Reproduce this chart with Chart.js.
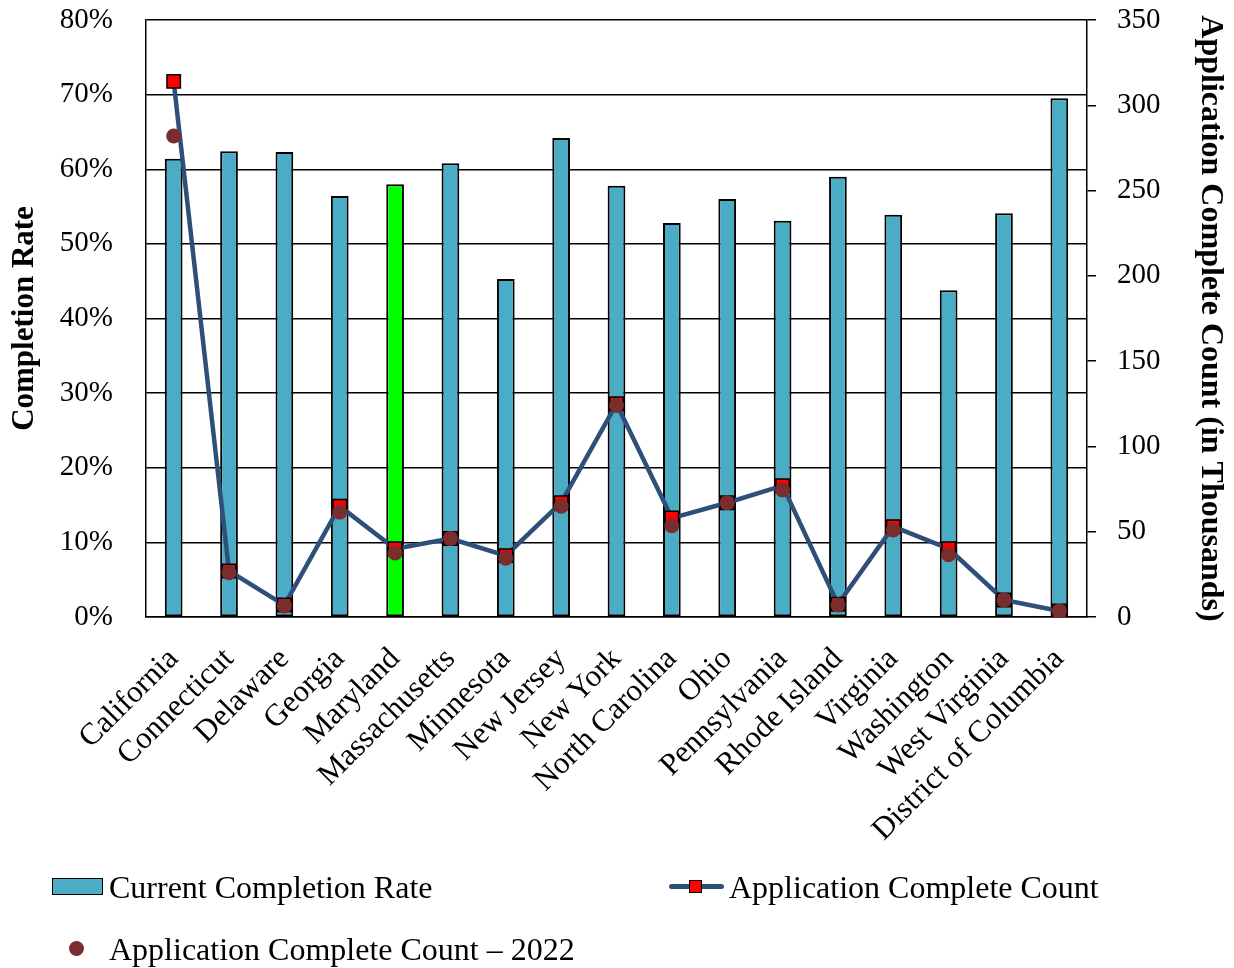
<!DOCTYPE html>
<html>
<head>
	<meta charset="UTF-8">
	<title>Completion Rate</title>
	<script src="https://cdn.jsdelivr.net/npm/chart.js@4.4.0/dist/chart.umd.min.js"></script>
	<style>
		body {
			margin:0;
			padding:0;
			overflow: hidden;
			background: #fff;
		}
		#wrap {
			position: relative;
			width: 1234px;
			height: 968px;
		}
		.leg {
			position: absolute;
			font-family: 'Liberation Serif', 'Times New Roman', serif;
			font-size: 32px;
			color: #000;
			line-height: 36px;
			white-space: nowrap;
		}
		.box {
			position: absolute;
			width: 49px;
			height: 15px;
			background: #4BACC6;
			border: 1.5px solid #000;
		}
		.ln {
			position: absolute;
			height: 5px;
			background: #2F4F7B;
			border-radius: 3px;
		}
		.sq {
			position: absolute;
			width: 11px;
			height: 11px;
			background: #f00;
			border: 1.5px solid #000;
		}
		.dot {
			position: absolute;
			width: 15px;
			height: 15px;
			border-radius: 50%;
			background: #7B2D2D;
		}
	</style>
</head>
<body>
	<div id="wrap">
		<canvas id="chart" width="1234" height="968"></canvas>
		<span class="box" style="left:52px; top:878px;"></span>
		<div class="leg" style="left:109px; top:869px;">Current Completion Rate</div>
		<span class="ln" style="left:669px; top:884px; width:55px;"></span>
		<span class="sq" style="left:689px; top:880px;"></span>
		<div class="leg" style="left:729px; top:869px;">Application Complete Count</div>
		<span class="dot" style="left:69px; top:941px;"></span>
		<div class="leg" style="left:109px; top:931px;">Application Complete Count – 2022</div>
	</div>
	<script>
		const states = ['California', 'Connecticut', 'Delaware', 'Georgia', 'Maryland', 'Massachusetts', 'Minnesota',
			'New Jersey', 'New York', 'North Carolina', 'Ohio', 'Pennsylvania', 'Rhode Island', 'Virginia',
			'Washington', 'West Virginia', 'District of Columbia'];
		const completionRate = [61.4, 62.4, 62.3, 56.4, 58.0, 60.8, 45.3, 64.2, 57.8, 52.8, 56.0, 53.1, 59.0, 53.9, 43.8, 54.1, 69.5];
		const completeCount = [314, 27, 7, 65, 40, 46, 36, 67, 125, 58, 67, 77, 7.5, 53, 40, 10, 3.5];
		const completeCount2022 = [282, 26, 6.5, 61.5, 37.5, 46, 34.5, 65, 124, 53.5, 67, 74.5, 7, 51, 36.5, 10, 3.5];
		const highlight = 'Maryland';

		const serif = "'Liberation Serif', 'Times New Roman', serif";
		const barColors = states.map(s => s === highlight ? '#00FF00' : '#4BACC6');

		// tick padding also pushes the plot down, so cap the top padding
		function fitSide(width) {
			return s => {
				s.width = width;
				s.paddingTop = 20;
			};
		}

		const ctx = document.getElementById('chart').getContext('2d');
		const myChart = new Chart(ctx, {
			data: {
				labels: states,
				datasets: [
					{
						type: 'line',
						label: 'Application Complete Count – 2022',
						data: completeCount2022,
						yAxisID: 'y1',
						showLine: false,
						pointStyle: 'circle',
						pointRadius: 7.5,
						pointBackgroundColor: '#7B2D2D',
						pointBorderColor: '#7B2D2D',
						pointBorderWidth: 0,
						order: 0
					},
					{
						type: 'line',
						label: 'Application Complete Count',
						data: completeCount,
						yAxisID: 'y1',
						borderColor: '#2F4F7B',
						borderWidth: 4.5,
						tension: 0,
						pointStyle: 'rect',
						pointRadius: 9.5,
						pointBackgroundColor: '#FF0000',
						pointBorderColor: '#000',
						pointBorderWidth: 1.5,
						order: 1
					},
					{
						type: 'bar',
						label: 'Current Completion Rate',
						data: completionRate,
						yAxisID: 'y',
						backgroundColor: barColors,
						borderColor: '#000',
						borderWidth: 2,
						borderSkipped: false,
						barPercentage: 0.32,
						categoryPercentage: 1,
						order: 2
					}
				]
			},
			options: {
				responsive: false,
				animation: false,
				layout: { padding: { top: 20, left: 0, right: 0, bottom: 0 } },
				plugins: {
					legend: { display: false },
					tooltip: { enabled: false }
				},
				scales: {
					x: {
						grid: { display: false },
						border: { display: true, color: '#000', width: 1.5 },
						ticks: {
							color: '#000',
							font: { family: serif, size: 31 },
							minRotation: 45,
							maxRotation: 45,
							padding: 16,
							autoSkip: false
						},
						afterFit: s => { s.height = 351; }
					},
					y: {
						position: 'left',
						min: 0,
						max: 80,
						ticks: {
							stepSize: 10,
							color: '#000',
							font: { family: serif, size: 29 },
							padding: 33,
							callback: v => v + '%'
						},
						grid: { color: '#000', lineWidth: 1.5, drawTicks: false },
						border: { display: true, color: '#000', width: 1.5 },
						title: {
							display: true,
							text: 'Completion Rate',
							color: '#000',
							font: { family: serif, size: 31, weight: 'bold' },
							padding: { top: 6, bottom: 0 }
						},
						afterFit: fitSide(146)
					},
					y1: {
						position: 'right',
						min: 0,
						max: 350,
						ticks: {
							stepSize: 50,
							color: '#000',
							font: { family: serif, size: 29 },
							padding: 21
						},
						grid: { drawOnChartArea: false, color: '#000', lineWidth: 1.5, tickLength: 9 },
						border: { display: true, color: '#000', width: 1.5 },
						title: {
							display: true,
							text: 'Application Complete Count (in Thousands)',
							color: '#000',
							font: { family: serif, size: 32, weight: 'bold' },
							padding: { top: 5, bottom: 0 }
						},
						afterFit: fitSide(147)
					}
				}
			}
		});
	</script>
</body>
</html>
